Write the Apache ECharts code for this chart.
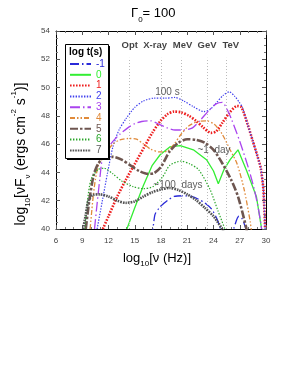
<!DOCTYPE html>
<html><head><meta charset="utf-8">
<script src="https://cdn.jsdelivr.net/npm/echarts@6/dist/echarts.min.js"></script>
<style>html,body{margin:0;padding:0;background:#fff}#c{width:291px;height:375px}</style>
</head><body><div id="c"></div>
<script>
// ---- data (log10 nu [Hz], log10 nuFnu) ----
const seriesNames = ['-1','0','1','2','3','4','5','6','7'];
const t_m1 = [[17.0,39.4],[17.3,41.0],[17.8,41.5],[18.3,41.8],[18.8,42.05],[19.5,42.3],[20.5,42.35],[21.5,42.3],[22.3,42.1],[23.0,41.85],[23.8,41.4],[24.4,40.7],[24.8,40.0],[25.2,39.2],[25.9,39.2],[26.3,40.0],[26.9,40.9],[27.3,40.7],[27.7,40.0],[28.0,39.4]];
const t_0 = [[14.1,40.0],[15.0,41.5],[16.0,43.1],[17.0,44.5],[17.9,45.25],[19.0,45.8],[20.2,45.9],[21.7,45.6],[23.2,44.9],[24.0,44.1],[24.55,43.2],[25.2,44.2],[25.9,44.9],[26.8,45.6],[27.8,44.1],[28.9,42.3],[29.5,40.0]];
const t_1 = [[11.35,40.0],[12.0,40.9],[13.0,42.3],[14.0,43.5],[15.0,44.6],[16.0,45.7],[17.0,46.8],[17.9,47.6],[18.7,48.1],[19.5,48.3],[20.3,48.25],[21.2,48.0],[22.0,47.65],[22.8,47.2],[23.7,46.8],[24.3,46.9],[25.0,47.5],[25.8,48.2],[26.7,48.7],[27.2,48.6],[27.9,47.4],[28.5,46.2],[29.0,45.2],[29.4,44.3],[29.7,42.8],[29.9,40.0]];
const t_2 = [[10.7,40.0],[11.3,42.0],[11.9,44.0],[12.5,45.8],[13.2,47.0],[14.0,47.8],[15.0,48.6],[16.0,49.05],[17.2,49.25],[18.5,49.25],[19.6,49.3],[20.6,49.05],[21.7,48.65],[22.9,48.3],[23.6,48.45],[24.3,48.9],[25.1,49.45],[25.8,49.7],[26.4,49.4],[26.9,49.0],[27.3,48.6],[27.9,47.4],[28.5,46.2],[29.0,45.2],[29.4,44.3],[29.7,42.8],[29.9,40.0]];
const t_3 = [[10.4,40.0],[10.7,41.8],[11.0,43.5],[11.3,45.0],[11.8,45.6],[12.5,46.2],[13.3,46.7],[14.2,47.15],[15.0,47.45],[15.8,47.6],[16.8,47.65],[17.8,47.4],[18.7,47.15],[19.6,47.0],[20.6,47.0],[21.6,47.15],[22.5,47.7],[23.5,48.4],[24.3,48.85],[25.0,48.95],[25.6,48.4],[26.1,47.7],[27.0,46.2],[28.0,44.3],[28.7,42.7],[29.2,41.2],[29.5,40.0]];
const t_4 = [[9.9,40.0],[10.2,42.0],[10.5,43.5],[10.9,44.6],[11.6,45.3],[12.5,46.0],[13.3,46.3],[14.3,46.4],[15.2,46.35],[16.0,46.0],[16.8,45.65],[17.8,45.45],[18.7,45.5],[19.5,46.0],[20.3,46.7],[21.2,47.3],[22.2,47.6],[23.2,47.65],[24.1,47.4],[25.0,46.7],[25.9,45.6],[26.7,44.6],[27.5,42.8],[28.2,40.5],[28.4,39.5]];
const t_5 = [[9.4,40.0],[9.8,42.0],[10.3,43.8],[10.8,44.6],[11.5,45.05],[12.5,45.1],[13.5,44.9],[14.5,44.5],[15.5,44.1],[16.5,43.9],[17.2,43.95],[18.0,44.4],[19.0,45.5],[20.0,46.1],[21.0,46.35],[22.0,46.3],[23.0,46.1],[24.0,45.6],[25.0,44.65],[26.0,43.5],[26.8,42.3],[27.7,40.2],[27.9,39.5]];
const t_6 = [[9.3,40.0],[9.6,42.0],[10.0,43.5],[10.8,44.2],[11.5,44.3],[12.5,43.9],[13.5,43.4],[14.8,43.0],[16.0,42.85],[17.1,43.0],[18.2,43.7],[19.0,44.5],[20.3,44.8],[21.3,44.6],[22.3,44.2],[23.6,42.8],[24.5,41.3],[25.3,40.0],[25.5,39.6]];
const t_7 = [[9.1,40.0],[9.4,41.0],[9.7,42.0],[10.2,42.4],[11.0,42.45],[12.0,42.3],[13.0,42.0],[14.0,41.85],[15.0,41.95],[16.0,42.3],[17.0,42.6],[18.0,42.8],[19.0,42.9],[20.0,42.75],[21.0,42.45],[22.0,42.05],[23.0,41.5],[24.0,40.9],[25.0,40.0],[25.3,39.6]];
const allData = [t_m1,t_0,t_1,t_2,t_3,t_4,t_5,t_6,t_7];

const bandNames = ['Opt','X-ray','MeV','GeV','TeV'];
const bandLabelX = [14.42,17.33,20.46,23.26,25.98];
const bandLineX = [14.35,18.05,20.36,23.3,25.5];
const notes = [{text:'100 s', x:18.74, y:49.65},{text:'~1  day', x:24.06, y:45.55},{text:'~100  days', x:19.94, y:43.1}];

// ---- styles ----
const colors = ['#2a2ad8','#33ee33','#ee2020','#4040ee','#aa44ee','#e08a3a','#6e5650','#2aa62a','#555555'];
const dashes = [[9,3,1.5,3],'solid',[1.6,1.4],[1.4,1.4],[10,3,1.5,3],[5,2,1.5,2,1.5,2],[8,2,2.5,2],[1.4,1.6],[1.6,1.0]];
const widths = [1.3,1.3,2.6,1.2,1.3,1.3,2.6,1.2,2.6];

const chart = echarts.init(document.getElementById('c'), null, {renderer:'canvas'});

const series = allData.map((d,i)=>({
  name: seriesNames[i], type:'line', data:d, symbol:'none', smooth: i===1?0:0.25,
  clip:true, z: 3+i,
  lineStyle:{color:colors[i], width:widths[i], type:dashes[i]},
  itemStyle:{color:colors[i]}
}));

series.push({
  type:'scatter', symbol:'rect', symbolSize:1, itemStyle:{color:'rgba(0,0,0,0)'}, z:20, silent:true,
  data: bandNames.map((n,i)=>({name:n, value:[bandLabelX[i],53.0]})),
  label:{show:true, position:'inside', formatter:'{b}', fontFamily:'Liberation Sans, Arial', fontWeight:'bold', fontSize:9.5, color:'#111'},
  markLine:{silent:true, symbol:'none', label:{show:false}, animation:false,
    lineStyle:{color:'#bbbbbb', type:[1,2], width:1},
    data: bandLineX.map(x=>[{coord:[x,40]},{coord:[x,52.1]}])}
});
series.push({
  type:'scatter', symbol:'rect', symbolSize:1, itemStyle:{color:'rgba(0,0,0,0)'}, z:20, silent:true,
  data: notes.map(n=>({name:n.text, value:[n.x,n.y]})),
  label:{show:true, position:'inside', formatter:'{b}', fontFamily:'Liberation Sans, Arial', fontSize:10, color:'#333'}
});

const axisCommon = {
  axisLine:{show:true, onZero:false, lineStyle:{color:'#000', width:1}},
  axisTick:{show:true, inside:true, length:4, lineStyle:{color:'#555'}},
  minorTick:{show:true, length:2, lineStyle:{color:'#777'}},
  splitLine:{show:false}
};

chart.setOption({
  animation:false,
  backgroundColor:'#fff',
  grid:{left:56, right:25, top:31, bottom:146, containLabel:false},
  xAxis:[
    Object.assign({type:'value', min:6, max:30, interval:3, position:'bottom',
      axisLabel:{fontSize:8, color:'#444', margin:8, fontFamily:'Liberation Sans, Arial'}}, axisCommon,
      {minorTick:{show:true, splitNumber:3, length:2, lineStyle:{color:'#777'}}}),
    Object.assign({type:'value', min:6, max:30, interval:3, position:'top', axisLabel:{show:false}}, axisCommon,
      {minorTick:{show:true, splitNumber:3, length:2, lineStyle:{color:'#777'}}})
  ],
  yAxis:[
    Object.assign({type:'value', min:40, max:54, interval:2, position:'left',
      axisLabel:{fontSize:8, color:'#444', margin:6, fontFamily:'Liberation Sans, Arial'}}, axisCommon,
      {minorTick:{show:true, splitNumber:4, length:2, lineStyle:{color:'#777'}}}),
    Object.assign({type:'value', min:40, max:54, interval:2, position:'right', axisLabel:{show:false}}, axisCommon,
      {minorTick:{show:true, splitNumber:4, length:2, lineStyle:{color:'#777'}}})
  ],
  legend:{
    orient:'vertical', left:69, top:59, itemWidth:21, itemHeight:10, itemGap:0.8, padding:0,
    textStyle:{fontSize:10, lineHeight:10, fontFamily:'Liberation Sans, Arial'},
    itemStyle:{opacity:0, borderWidth:0, color:'rgba(0,0,0,0)'},
    data: seriesNames.map((n,i)=>({name:n, textStyle:{color:colors[i]}})),
    z:12
  },
  graphic:[
    {type:'rect', left:67, top:46, shape:{width:43, height:114}, style:{fill:'#000'}, z:10},
    {type:'rect', left:65, top:44, shape:{width:43, height:114}, style:{fill:'#fff', stroke:'#000', lineWidth:1}, z:11},
    {type:'text', left:69, top:47, style:{text:'log t(s)', font:'bold 10px "Liberation Sans", Arial', fill:'#000'}, z:12},
    {type:'text', left:131, top:7, style:{
      text:'{a|Γ}{s|0}{a|= 100}',
      rich:{a:{fontSize:13, fontFamily:'Liberation Sans, Arial', color:'#000', lineHeight:20, verticalAlign:'middle'},
            s:{fontSize:8, fontFamily:'Liberation Sans, Arial', color:'#000', verticalAlign:'bottom', lineHeight:20}}}, z:12},
    {type:'text', x:157, y:258, style:{
      text:'{a|log}{s|10}{a|[ν (Hz)]}', align:'center', verticalAlign:'middle',
      rich:{a:{fontSize:13, fontFamily:'Liberation Sans, Arial', color:'#111', lineHeight:20, verticalAlign:'middle'},
            s:{fontSize:8, fontFamily:'Liberation Sans, Arial', color:'#111', verticalAlign:'bottom', lineHeight:20}}}, z:12},
    {type:'text', x:21, y:154, rotation:Math.PI/2, style:{
      text:'{a|log}{s|10}{a|[νF}{s|ν}{a| (ergs cm}{p|-2}{a| s}{p|-1}{a|)]}', align:'center', verticalAlign:'middle',
      rich:{a:{fontSize:14, fontFamily:'Liberation Sans, Arial', color:'#111', lineHeight:22, verticalAlign:'middle'},
            s:{fontSize:8, fontFamily:'Liberation Sans, Arial', color:'#111', verticalAlign:'bottom', lineHeight:22},
            p:{fontSize:8, fontFamily:'Liberation Sans, Arial', color:'#111', verticalAlign:'top', lineHeight:22}}}, z:12}
  ],
  series: series
});
</script></body></html>
